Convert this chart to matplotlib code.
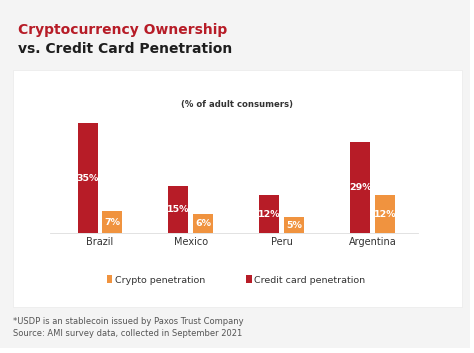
import matplotlib.pyplot as plt
import numpy as np
from matplotlib.patches import Rectangle

countries = ['Brazil', 'Mexico', 'Peru', 'Argentina']
credit_card = [35, 15, 12, 29]
crypto = [7, 6, 5, 12]

RED = '#b71c27'
ORANGE = '#f0933f'

fig = plt.figure(figsize=(4.74, 3.53), dpi=100)
fig.patch.set_facecolor('white')

# gray card and white inner panel (pixel coords converted to fig fractions)
W, H = 474, 353
fig.patches.append(Rectangle((0, 1 - 348 / H), 470 / W, 348 / H,
                             transform=fig.transFigure, facecolor='#f4f4f4',
                             edgecolor='none', zorder=-2))
fig.patches.append(Rectangle((13 / W, 1 - 307 / H), 449 / W, 237 / H,
                             transform=fig.transFigure, facecolor='white',
                             edgecolor='#ececec', linewidth=0.6, zorder=-1))

fig.text(18 / W, 1 - 30 / H, 'Cryptocurrency Ownership', color=RED,
         fontsize=10, fontweight='bold', va='center', ha='left')
fig.text(18 / W, 1 - 49 / H, 'vs. Credit Card Penetration', color='#1e1e1e',
         fontsize=10, fontweight='bold', va='center', ha='left')

ax = fig.add_axes([50 / W, 1 - 233 / H, 368 / W, 118 / H])
ax.set_zorder(2)
ax.set_facecolor('none')
x = np.arange(len(countries))
w = 0.22
off = 0.137
b1 = ax.bar(x - off, credit_card, w, color=RED, label='Credit card penetration')
b2 = ax.bar(x + off, crypto, w, color=ORANGE, label='Crypto penetration')

for bars, vals in ((b1, credit_card), (b2, crypto)):
    for b, v in zip(bars, vals):
        ax.text(b.get_x() + b.get_width() / 2, v / 2, f'{v}%', color='white',
                fontsize=6.8, fontweight='bold', ha='center', va='center')

ax.set_xlim(-0.55, 3.5)
ax.set_ylim(0, 37.6)
ax.set_xticks(x)
ax.set_xticklabels(countries, fontsize=7, color='#333333')
ax.tick_params(axis='x', length=0, pad=3)
ax.set_yticks([])
for s in ['top', 'right', 'left']:
    ax.spines[s].set_visible(False)
ax.spines['bottom'].set_color('#dddddd')
ax.spines['bottom'].set_linewidth(0.6)

fig.text(237 / W, 1 - 105 / H, '(% of adult consumers)', color='#333333',
         fontsize=6.1, fontweight='bold', ha='center', va='center')

handles = [b2, b1]
fig.legend(handles, [h.get_label() for h in handles], loc='center',
           bbox_to_anchor=(236 / W, 1 - 280 / H), ncol=2, frameon=False,
           fontsize=6.8, handlelength=0.6, handleheight=0.9, handletextpad=0.3,
           columnspacing=4.3, labelcolor='#333333')

fig.text(13 / W, 1 - 322 / H, '*USDP is an stablecoin issued by Paxos Trust Company',
         fontsize=6, color='#555555', ha='left', va='center')
fig.text(13 / W, 1 - 333 / H, 'Source: AMI survey data, collected in September 2021',
         fontsize=6, color='#555555', ha='left', va='center')

fig.savefig('out.png', dpi=100)
